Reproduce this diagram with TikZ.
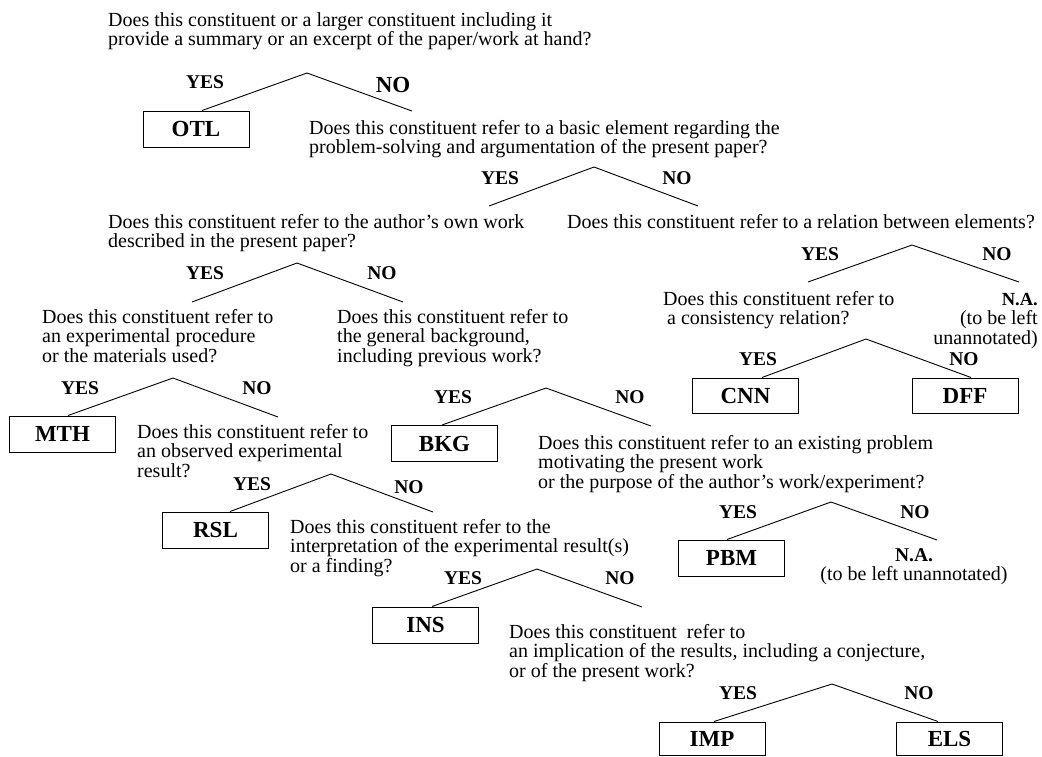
\documentclass[tikz,border=0pt]{standalone}
\usepackage{fontspec}
\setmainfont{Liberation Serif}
\newcommand\qtext[1]{\vtop{\halign{##\hfil\cr#1\crcr}}}
\newcommand\qright[1]{\vtop{\halign{\hfil##\cr#1\crcr}}}
\newcommand\qcenter[1]{\vtop{\halign{\hfil##\hfil\cr#1\crcr}}}
\begin{document}
\begin{tikzpicture}[x=1pt,y=-1pt,
  q/.style={anchor=base west,inner sep=0pt,font=\fontsize{20}{19.5}\selectfont},
  qr/.style={anchor=base east,inner sep=0pt,font=\fontsize{20}{19.5}\selectfont},
  qc/.style={anchor=base,inner sep=0pt,font=\fontsize{20}{19.5}\selectfont},
  lab/.style={inner sep=0pt,font=\fontsize{19.5}{20}\selectfont\bfseries},
  biglab/.style={inner sep=0pt,font=\fontsize{23}{24}\selectfont\bfseries},
  cat/.style={draw,line width=1pt,minimum width=106pt,minimum height=36pt,inner sep=0pt,font=\fontsize{23}{24}\selectfont\bfseries},
  branch/.style={line width=0.9pt}]
\useasboundingbox (0,0) rectangle (1042,756);

% questions
\node[q] (q1) at (108,26) {\qtext{Does this constituent or a larger constituent including it\cr provide a summary or an excerpt of the paper/work at hand?}};
\node[q] (q2) at (309,134) {\qtext{Does this constituent refer to a basic element regarding the\cr problem-solving and argumentation of the present paper?}};
\node[q] (q3) at (108,228) {\qtext{Does this constituent refer to the author's own work\cr described in the present paper?}};
\node[q] (q4) at (567,228) {\qtext{Does this constituent refer to a relation between elements?}};
\node[q] (q5) at (42,323) {\qtext{Does this constituent refer to\cr an experimental procedure\cr or the materials used?}};
\node[q] (q6) at (337,323) {\qtext{Does this constituent refer to\cr the general background,\cr including previous work?}};
\node[q] (q7) at (663,305) {\qtext{Does this constituent refer to\cr \hspace{4pt}a consistency relation?}};
\node[qr] (na1) at (1038,305) {\qright{\fontsize{18.5}{19.5}\selectfont\bfseries N.A.\cr (to be left\cr unannotated)}};
\node[q] (q8) at (137,438) {\qtext{Does this constituent refer to\cr an observed experimental\cr result?}};
\node[q] (q9) at (290,533) {\qtext{Does this constituent refer to the\cr interpretation of the experimental result(s)\cr or a finding?}};
\node[q] (q10) at (538,449) {\qtext{Does this constituent refer to an existing problem\cr motivating the present work\cr or the purpose of the author's work/experiment?}};
\node[qc] (na2) at (914,561) {\qcenter{\fontsize{19.5}{19.5}\selectfont\bfseries N.A.\cr (to be left unannotated)}};
\node[q] (q11) at (509,638) {\qtext{Does this constituent\hspace{5pt} refer to\cr an implication of the results, including a conjecture,\cr or of the present work?}};

% category boxes
\node[cat] (OTL) at (196,129) {OTL};
\node[cat] (MTH) at (62.5,434) {MTH};
\node[cat] (BKG) at (444.5,443.5) {BKG};
\node[cat] (RSL) at (215.5,530) {RSL};
\node[cat] (INS) at (425.5,625) {INS};
\node[cat,minimum height=35pt] (CNN) at (745.5,395.5) {CNN};
\node[cat,minimum height=35pt] (DFF) at (965,395.5) {DFF};
\node[cat] (PBM) at (731.5,558) {PBM};
\node[cat,minimum height=33pt] (IMP) at (712,738.5) {IMP};
\node[cat,minimum height=33pt] (ELS) at (949.5,738.5) {ELS};

% branch points and free ends
\coordinate (a1) at (307,73);  \coordinate (e1r) at (412,111);
\coordinate (a2) at (594,167); \coordinate (e2l) at (489,206); \coordinate (e2r) at (698,206);
\coordinate (a3) at (297,263); \coordinate (e3l) at (192,302); \coordinate (e3r) at (403,302);
\coordinate (a4) at (912,245); \coordinate (e4l) at (808,282); \coordinate (e4r) at (1019,282);
\coordinate (a5) at (866,339);
\coordinate (a6) at (173,378); \coordinate (e6r) at (278,417);
\coordinate (a7) at (546,388); \coordinate (e7r) at (651,426);
\coordinate (a8) at (331,474); \coordinate (e8r) at (433,512);
\coordinate (a9) at (537,569); \coordinate (e9r) at (642,607);
\coordinate (a10) at (832,684);
\coordinate (a11) at (831,502); \coordinate (e11r) at (937,540);

% branches
\draw[branch] ([xshift=6pt]OTL.north) -- (a1) -- (e1r);
\draw[branch] (e2l) -- (a2) -- (e2r);
\draw[branch] (e3l) -- (a3) -- (e3r);
\draw[branch] (e4l) -- (a4) -- (e4r);
\draw[branch] ([xshift=16.5pt]CNN.north) -- (a5) -- ([xshift=6pt]DFF.north);
\draw[branch] ([xshift=5.5pt]MTH.north) -- (a6) -- (e6r);
\draw[branch] ([xshift=-2.5pt]BKG.north) -- (a7) -- (e7r);
\draw[branch] ([xshift=14.5pt]RSL.north) -- (a8) -- (e8r);
\draw[branch] ([xshift=6.5pt]INS.north) -- (a9) -- (e9r);
\draw[branch] ([xshift=2pt]IMP.north) -- (a10) -- ([xshift=-11.5pt]ELS.north);
\draw[branch] ([xshift=-4.5pt]PBM.north) -- (a11) -- (e11r);

% YES / NO labels
\node[lab] (y1) at (205,82) {YES};   \node[biglab] (n1) at (393,85) {NO};
\node[lab] (y2) at (500,178) {YES};  \node[lab] (n2) at (677,178) {NO};
\node[lab] (y3) at (205,273) {YES};  \node[lab] (n3) at (382,273) {NO};
\node[lab] (y4) at (820,254) {YES};  \node[lab] (n4) at (997,254) {NO};
\node[lab] (y5) at (758,359) {YES};  \node[lab] (n5) at (964,359) {NO};
\node[lab] (y6) at (80,388) {YES};   \node[lab] (n6) at (257,388) {NO};
\node[lab] (y7) at (453,397) {YES};  \node[lab] (n7) at (630,397) {NO};
\node[lab] (y8) at (252,484) {YES};  \node[lab] (n8) at (409,487) {NO};
\node[lab] (y9) at (463,578) {YES};  \node[lab] (n9) at (620,578) {NO};
\node[lab] (y10) at (738,693) {YES}; \node[lab] (n10) at (919,693) {NO};
\node[lab] (y11) at (738,512) {YES}; \node[lab] (n11) at (915,512) {NO};
\end{tikzpicture}
\end{document}
